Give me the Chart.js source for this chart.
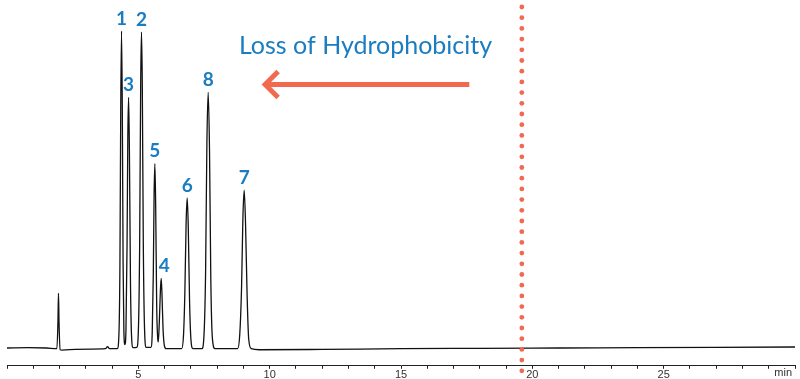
<!DOCTYPE html>
<html>
<head>
<meta charset="utf-8">
<script src="https://cdn.jsdelivr.net/npm/chart.js@4"></script>
<style>
html,body{margin:0;padding:0;background:#fff;}
#wrap{width:800px;height:379px;position:relative;}
</style>
</head>
<body>
<div id="wrap"><canvas id="c"></canvas></div>
<script>
// Retention times (min) of the trace points
const traceTimes = [0.0, 0.8, 1.5, 1.90, 1.94, 1.96, 1.98, 2.02, 2.10, 2.6, 3.2, 3.75, 3.83, 3.90, 4.20,
  4.26, 4.30, 4.33, 4.36, 4.39, 4.42, 4.45, 4.49,
  4.53, 4.57, 4.60, 4.63, 4.66, 4.70, 4.74, 4.80,
  4.94, 5.00, 5.05, 5.09, 5.12, 5.15, 5.19, 5.24, 5.30,
  5.48, 5.53, 5.57, 5.60, 5.63, 5.66, 5.70, 5.74, 5.76,
  5.80, 5.84, 5.87, 5.90, 5.94, 5.99, 6.06,
  6.65, 6.72, 6.77, 6.82, 6.86, 6.90, 6.95, 7.00, 7.08,
  7.42, 7.50, 7.56, 7.61, 7.66, 7.71, 7.76, 7.82, 7.92,
  8.78, 8.86, 8.93, 8.98, 9.03, 9.08, 9.14, 9.20, 9.30,
  9.6, 12.0, 15.0, 18.0, 21.0, 24.0, 27.0, 30.0];
// Detector signal (arbitrary units) at those times
const traceSignal = [0.2, 0.3, 0.2, 0.0, 8, 16.2, 8, -0.3, -0.4, -0.2, -0.1, 0.0, 0.6, 0.0, 0.0,
  4, 25, 70, 92.9, 70, 25, 5, 1.2,
  6, 30, 62, 73.5, 58, 20, 4, 0.3,
  0.4, 5, 30, 78, 92.6, 78, 30, 5, 0.4,
  0.4, 5, 22, 45, 54.1, 42, 12, 2.8, 2.0,
  8, 17, 20.6, 16, 6, 1, 0.0,
  0.0, 4, 16, 37, 44.1, 36, 14, 3, 0.0,
  0.0, 4, 22, 60, 75, 58, 20, 3, 0.0,
  0.0, 4, 18, 38, 46.4, 37, 16, 3, 0.0,
  -0.3, -0.2, 0.0, 0.1, 0.2, 0.3, 0.4, 0.5];
// Peak labels
const peakNames = ['1', '2', '3', '4', '5', '6', '7', '8'];
const peakTimes = [4.36, 5.12, 4.63, 5.87, 5.63, 6.86, 9.03, 7.66];
const peakHeights = [92.9, 92.6, 73.5, 20.6, 54.1, 44.1, 46.4, 75];
// Axis ticks
const majorTicks = [5, 10, 15, 20, 25];
const axisUnit = 'min';
// Annotations
const markerTime = 19.6;
const annotationText = 'Loss of Hydrophobicity';
const arrowFrom = 17.6, arrowTo = 9.75, arrowLevel = 77.3;
const textTime = 13.65, textLevel = 88.5;

const BLUE = '#1a7cc1';
const CORAL = '#f16a4f';

const overlay = {
  id: 'overlay',
  afterDatasetsDraw(chart) {
    const ctx = chart.ctx, x = chart.scales.x, y = chart.scales.y;
    ctx.save();
    // peak numbers
    ctx.fillStyle = BLUE;
    ctx.font = 'bold 19px Lato, "Open Sans", sans-serif';
    ctx.textAlign = 'center';
    ctx.textBaseline = 'bottom';
    peakNames.forEach((n, i) => {
      const dx = n === '4' ? 3 : 0;
      ctx.fillText(n, x.getPixelForValue(peakTimes[i]) + dx, y.getPixelForValue(peakHeights[i]) - 3);
    });
    // text
    ctx.font = '25px Lato, "Open Sans", sans-serif';
    ctx.textBaseline = 'middle';
    ctx.fillText(annotationText, x.getPixelForValue(textTime), y.getPixelForValue(textLevel));
    // arrow
    const ax1 = x.getPixelForValue(arrowFrom), ax2 = x.getPixelForValue(arrowTo), ay = y.getPixelForValue(arrowLevel);
    ctx.strokeStyle = CORAL;
    ctx.lineWidth = 5;
    ctx.lineCap = 'butt';
    ctx.beginPath();
    ctx.moveTo(ax1, ay); ctx.lineTo(ax2 + 2, ay); ctx.stroke();
    ctx.beginPath();
    ctx.lineJoin = 'miter';
    ctx.moveTo(ax2 + 15, ay - 13); ctx.lineTo(ax2 + 2, ay); ctx.lineTo(ax2 + 15, ay + 13);
    ctx.stroke();
    // dotted marker
    ctx.fillStyle = CORAL;
    const mx = x.getPixelForValue(markerTime);
    for (let py = 7; py < chart.height + 5; py += 10.7) {
      ctx.beginPath(); ctx.arc(mx, py, 2.4, 0, Math.PI * 2); ctx.fill();
    }
    // unit label
    ctx.fillStyle = '#333';
    ctx.font = '11px "Liberation Sans", Arial, sans-serif';
    ctx.textAlign = 'right';
    ctx.textBaseline = 'middle';
    ctx.fillText(axisUnit, x.right - 3, chart.height - 6);
    ctx.restore();
  }
};

new Chart(document.getElementById('c'), {
  type: 'line',
  data: {
    datasets: [{
      data: traceTimes.map((t, i) => ({x: t, y: traceSignal[i]})),
      borderColor: '#111',
      borderWidth: 1.3,
      pointRadius: 0,
      cubicInterpolationMode: 'monotone',
      fill: false
    }]
  },
  options: {
    responsive: true,
    maintainAspectRatio: false,
    animation: false,
    layout: {padding: {left: 7, right: 5, top: 0, bottom: -3}},
    plugins: {legend: {display: false}, tooltip: {enabled: false}},
    scales: {
      x: {
        type: 'linear', min: 0, max: 30,
        border: {display: true, color: '#222', width: 1},
        grid: {display: true, drawOnChartArea: false, drawTicks: true, tickLength: 3, color: '#222'},
        ticks: {
          stepSize: 1, autoSkip: false, maxRotation: 0, padding: 0,
          color: '#333', font: {family: '"Liberation Sans", Arial, sans-serif', size: 11},
          callback: v => majorTicks.includes(v) ? String(v) : ''
        }
      },
      y: {display: false, min: -5, max: 102}
    }
  },
  plugins: [overlay]
});
</script>
</body>
</html>
